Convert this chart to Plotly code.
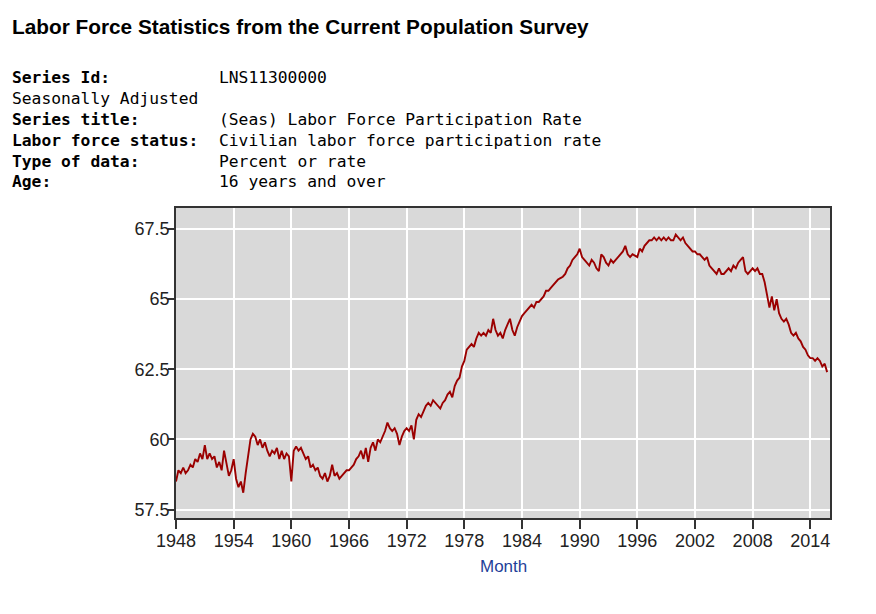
import plotly.graph_objects as go

# ---- data (quarterly readings of the monthly series) ----
start_year = 1948
rate = [
    58.5, 58.9, 58.8, 59.0,   # 1948
    58.8, 58.9, 59.1, 59.0,   # 1949
    59.3, 59.2, 59.5, 59.3,   # 1950
    59.8, 59.3, 59.5, 59.3,   # 1951
    59.4, 59.0, 59.2, 58.9,   # 1952
    59.6, 59.1, 58.7, 58.9,   # 1953
    59.3, 58.6, 58.3, 58.5,   # 1954
    58.1, 58.8, 59.5, 60.0,   # 1955
    60.2, 60.1, 59.8, 60.0,   # 1956
    59.7, 59.9, 59.6, 59.4,   # 1957
    59.6, 59.5, 59.7, 59.3,   # 1958
    59.6, 59.3, 59.5, 59.4,   # 1959
    58.5, 59.6, 59.75, 59.6,  # 1960
    59.7, 59.5, 59.3, 59.4,   # 1961
    59.0, 59.1, 58.9, 59.0,   # 1962
    58.7, 58.6, 58.8, 58.5,   # 1963
    58.7, 59.1, 58.7, 58.8,   # 1964
    58.6, 58.7, 58.8, 58.9,   # 1965
    58.9, 59.0, 59.1, 59.3,   # 1966
    59.4, 59.6, 59.3, 59.7,   # 1967
    59.2, 59.7, 59.9, 59.6,   # 1968
    60.0, 59.9, 60.1, 60.3,   # 1969
    60.6, 60.4, 60.3, 60.4,   # 1970
    60.2, 59.8, 60.1, 60.3,   # 1971
    60.4, 60.3, 60.5, 60.0,   # 1972
    60.7, 60.9, 60.8, 61.0,   # 1973
    61.2, 61.3, 61.2, 61.4,   # 1974
    61.3, 61.2, 61.1, 61.3,   # 1975
    61.4, 61.6, 61.7, 61.5,   # 1976
    61.9, 62.1, 62.2, 62.6,   # 1977
    62.8, 63.2, 63.3, 63.4,   # 1978
    63.3, 63.6, 63.8, 63.7,   # 1979
    63.8, 63.7, 63.9, 63.8,   # 1980
    64.3, 63.9, 63.7, 63.8,   # 1981
    63.6, 63.9, 64.1, 64.3,   # 1982
    63.9, 63.7, 64.0, 64.2,   # 1983
    64.4, 64.5, 64.6, 64.7,   # 1984
    64.8, 64.7, 64.9, 64.9,   # 1985
    65.0, 65.1, 65.3, 65.3,   # 1986
    65.4, 65.5, 65.6, 65.7,   # 1987
    65.75, 65.8, 65.9, 66.1,  # 1988
    66.2, 66.4, 66.5, 66.6,   # 1989
    66.8, 66.5, 66.4, 66.3,   # 1990
    66.2, 66.4, 66.3, 66.1,   # 1991
    66.0, 66.6, 66.5, 66.3,   # 1992
    66.2, 66.4, 66.3, 66.4,   # 1993
    66.5, 66.6, 66.7, 66.9,   # 1994
    66.6, 66.5, 66.6, 66.55,  # 1995
    66.5, 66.8, 66.7, 66.9,   # 1996
    67.0, 67.1, 67.1, 67.2,   # 1997
    67.1, 67.2, 67.1, 67.2,   # 1998
    67.1, 67.2, 67.1, 67.1,   # 1999
    67.3, 67.2, 67.1, 67.2,   # 2000
    67.0, 66.9, 66.8, 66.7,   # 2001
    66.7, 66.6, 66.6, 66.5,   # 2002
    66.4, 66.5, 66.2, 66.1,   # 2003
    66.0, 65.9, 66.1, 65.9,   # 2004
    65.9, 66.0, 66.1, 66.0,   # 2005
    66.2, 66.1, 66.3, 66.4,   # 2006
    66.5, 66.0, 65.9, 66.0,   # 2007
    66.1, 66.0, 66.1, 65.9,   # 2008
    65.9, 65.6, 65.2, 64.7,   # 2009
    65.1, 64.6, 65.0, 64.5,   # 2010
    64.3, 64.2, 64.3, 64.1,   # 2011
    63.8, 63.7, 63.8, 63.6,   # 2012
    63.5, 63.3, 63.2, 63.0,   # 2013
    62.9, 62.9, 62.8, 62.9,   # 2014
    62.8, 62.6, 62.7, 62.4,   # 2015
]
x_ticks = [1948, 1954, 1960, 1966, 1972, 1978, 1984, 1990, 1996, 2002, 2008, 2014]
y_ticks = [57.5, 60, 62.5, 65, 67.5]
y_tick_text = ["57.5", "60", "62.5", "65", "67.5"]

title_text = "Labor Force Statistics from the Current Population Survey"
meta_labels = ["Series Id:", "Seasonally Adjusted", "Series title:",
               "Labor force status:", "Type of data:", "Age:"]
meta_values = ["LNS11300000", "", "(Seas) Labor Force Participation Rate",
               "Civilian labor force participation rate", "Percent or rate",
               "16 years and over"]
x_title = "Month"

# ---- layout geometry ----
W, H = 876, 614
L, R, T, B = 176, 830, 208, 518


def px_x(px):
    return (px - L) / (R - L)


def px_y(py):
    return (B - py) / (B - T)


x_vals = [start_year + i / 4 for i in range(len(rate))]

fig = go.Figure()
fig.add_trace(go.Scatter(x=x_vals, y=rate, mode="lines",
                         line=dict(color="#9b0000", width=1.9),
                         showlegend=False, hoverinfo="x+y"))

ann = []
ann.append(dict(text="<b>" + title_text + "</b>", x=px_x(10), y=px_y(27),
                xref="paper", yref="paper", xanchor="left", yanchor="middle",
                showarrow=False,
                font=dict(family="Liberation Sans, Arial", size=20.8, color="#000")))
mono = "DejaVu Sans Mono, monospace"
line_y = [77, 98, 119, 140, 161, 182]
for i, (lab, val) in enumerate(zip(meta_labels, meta_values)):
    bold = lab != "Seasonally Adjusted"
    ann.append(dict(text=("<b>" + lab + "</b>") if bold else lab,
                    x=px_x(10), y=px_y(line_y[i]), xref="paper", yref="paper",
                    xanchor="left", yanchor="middle", showarrow=False,
                    font=dict(family=mono, size=16.3, color="#000")))
    if val:
        ann.append(dict(text=val, x=px_x(217), y=px_y(line_y[i]),
                        xref="paper", yref="paper", xanchor="left",
                        yanchor="middle", showarrow=False,
                        font=dict(family=mono, size=16.3, color="#000")))
ann.append(dict(text=x_title, x=0.5, y=px_y(566), xref="paper", yref="paper",
                xanchor="center", yanchor="middle", showarrow=False,
                font=dict(family="Liberation Sans, Arial", size=17,
                          color="#1f3f99")))

axis_font = dict(family="Liberation Sans, Arial", size=18, color="#222")
fig.update_layout(
    width=W, height=H,
    margin=dict(l=L, r=W - R, t=T, b=H - B, pad=0),
    paper_bgcolor="white", plot_bgcolor="#d9d9d9",
    annotations=ann,
    xaxis=dict(range=[1948, 2016.05], tickvals=x_ticks,
               ticktext=[str(v) for v in x_ticks],
               showgrid=True, gridcolor="white", gridwidth=2,
               ticks="outside", ticklen=9, tickcolor="#333", tickwidth=1.5,
               showline=True, linecolor="#333", linewidth=1.5, mirror=True,
               zeroline=False, tickfont=axis_font, automargin=False,
               ticklabelstandoff=-3),
    yaxis=dict(range=[57.2, 68.25], tickvals=y_ticks, ticktext=y_tick_text,
               showgrid=True, gridcolor="white", gridwidth=2,
               ticks="outside", ticklen=6, tickcolor="#333", tickwidth=1.5,
               showline=True, linecolor="#333", linewidth=1.5, mirror=True,
               zeroline=False, tickfont=axis_font, automargin=False,
               ticklabelstandoff=-5),
)

fig.write_html("out.html")
